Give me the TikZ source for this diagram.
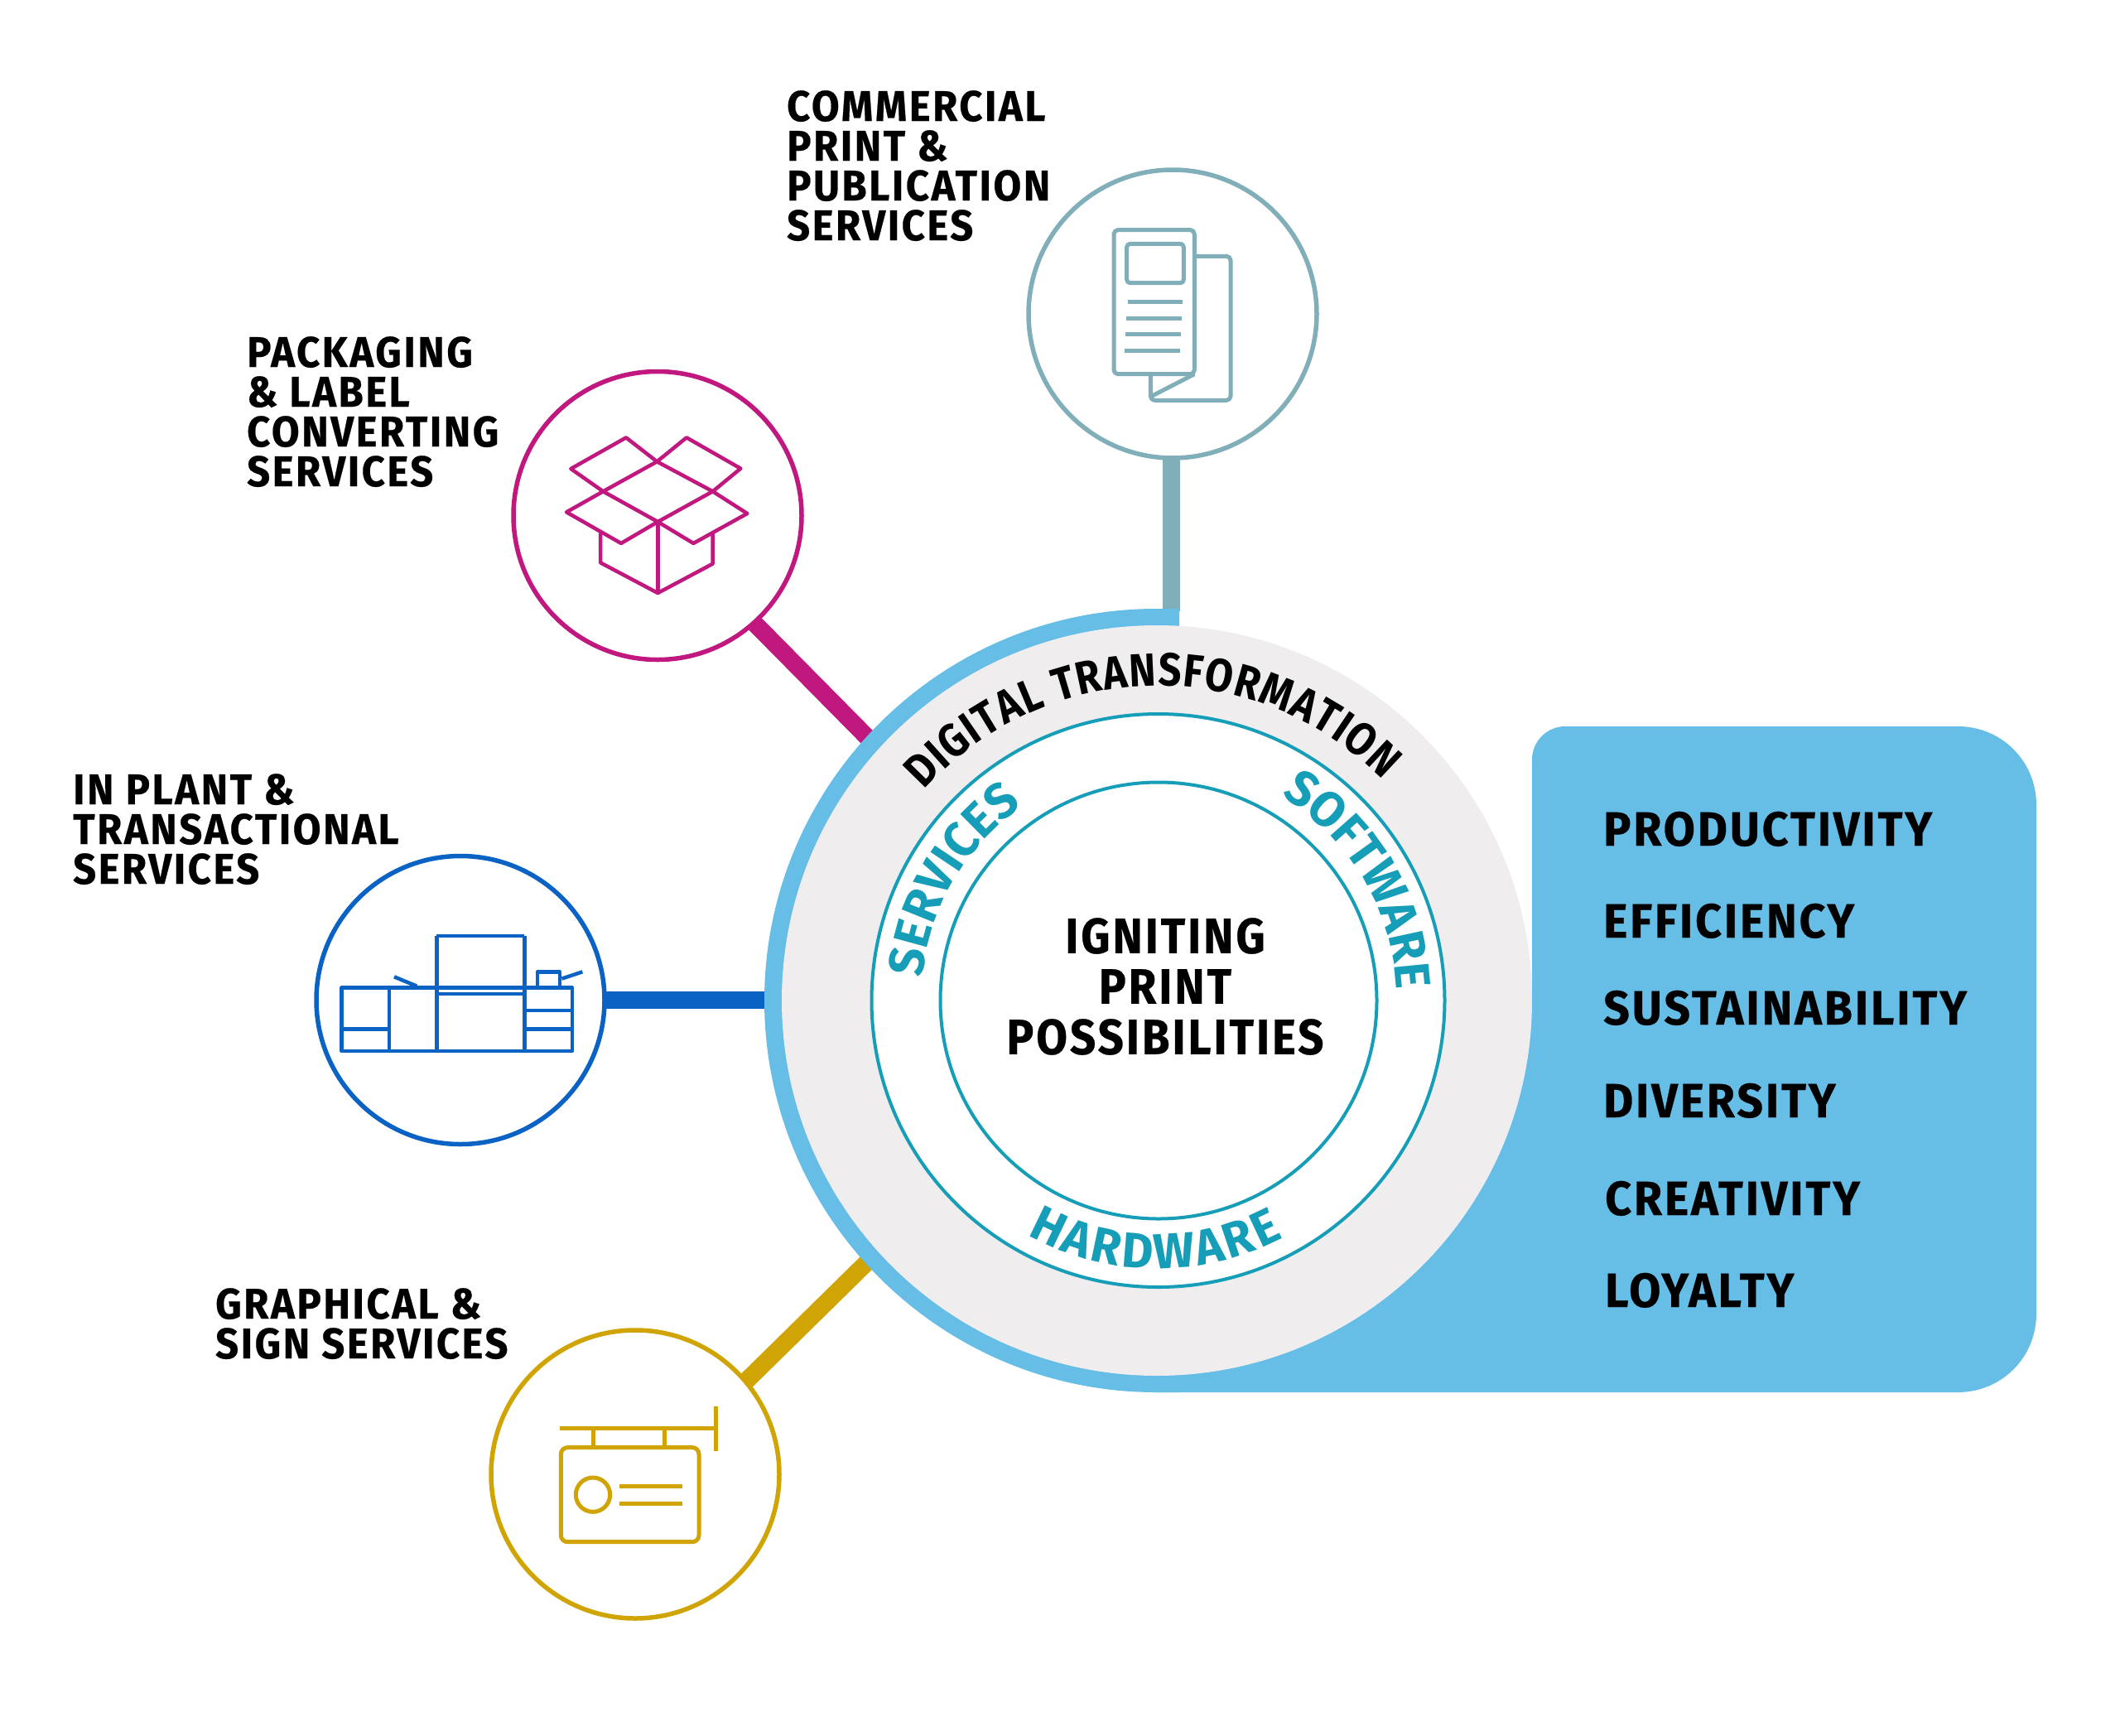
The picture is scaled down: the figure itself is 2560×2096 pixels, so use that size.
\documentclass[tikz,border=0pt]{standalone}
\usepackage{fontspec}
\usetikzlibrary{decorations.text,calc}
\setmainfont{Fira Sans}
\newfontfamily\labelfont{Fira Sans Bold}[LetterSpace=5,FakeStretch=0.94,FakeBold=0.4]
\newfontfamily\bigfont{Fira Sans Bold}[LetterSpace=5,FakeStretch=0.955,FakeBold=0.4]
\newfontfamily\midfont{Fira Sans Bold}[LetterSpace=5,FakeStretch=0.91,FakeBold=0.4]
\newfontfamily\arcfont{Fira Sans Bold}[FakeStretch=0.97]
\newfontfamily\digfont{Fira Sans Bold}[FakeStretch=0.87]
\definecolor{ccyan}{HTML}{66BDE6}
\definecolor{cgray}{HTML}{EFEDEE}
\definecolor{cteal}{HTML}{169DB7}
\definecolor{cslate}{HTML}{80AEB9}
\definecolor{cmag}{HTML}{C0187F}
\definecolor{cblue}{HTML}{0A63C4}
\definecolor{cgold}{HTML}{CFA404}
\pgfdeclarelayer{under}
\pgfsetlayers{under,main}
\tikzset{
 lab/.style={font=\labelfont\fontsize{52}{48}\selectfont,align=left,anchor=north west,inner sep=0pt,text=black},
 big/.style={font=\bigfont\fontsize{58}{60}\selectfont,anchor=base west,inner sep=0pt,text=black},
 hub/.style={circle,fill=white,minimum size=348pt,line width=5.5pt,inner sep=0pt,outer sep=0pt},
 link/.style={line width=21pt},
}
\begin{document}
\begin{tikzpicture}[x=1pt,y=-1pt]
\useasboundingbox (0,0) rectangle (2560,2096);
% panel and ring backing
\fill[ccyan] (1396,1208) -- (1850,1208) -- (1850,917)
  .. controls (1850,895) and (1868,877) .. (1890,877) -- (2364,877)
  .. controls (2417,877) and (2459,919) .. (2459,972) -- (2459,1586)
  .. controls (2459,1639) and (2417,1681) .. (2364,1681) -- (1396,1681) -- cycle;
\fill[ccyan] (1396,735) -- (1424,735) -- (1424,1681) -- (1396,1681)
  .. controls (1135,1681) and (923,1469) .. (923,1208)
  .. controls (923,947) and (1135,735) .. (1396,735) -- cycle;
% hubs
\coordinate (cT) at (1414.5,738);
\coordinate (cM) at (1050,893);
\coordinate (cB) at (930,1207.5);
\coordinate (cG) at (1048,1523);
\node[hub,draw=cslate] (nT) at (1416,379) {};
\node[hub,draw=cmag] (nM) at (794,622.5) {};
\node[hub,draw=cblue] (nB) at (556,1207.5) {};
\node[hub,draw=cgold] (nG) at (767,1780) {};
\begin{pgfonlayer}{under}
\draw[link,cslate] (nT.south -| cT) -- (cT);
\draw[link,cmag] ($(nM.-48.3)!-14pt!(cM)$) -- (cM);
\draw[link,cblue] (nB.east) -- (cB);
\draw[link,cgold] ($(nG.40)!-14pt!(cG)$) -- (cG);
\end{pgfonlayer}
% disc
\node[circle,fill=cgray,minimum size=906pt,inner sep=0pt] (disc) at (1397,1208) {};
\node[circle,draw=cteal,fill=white,line width=4pt,minimum size=692pt,inner sep=0pt] (outer) at (1398.5,1208) {};
\node[circle,draw=cteal,fill=white,line width=4pt,minimum size=527pt,inner sep=0pt] (inner) at (1399,1208) {};
% curved text
\begin{scope}[shift={(1398.5,1208)},y=1pt]
\path[decorate,decoration={text along path,text align={fit to path},
  text={|\digfont\fontsize{56}{56}\selectfont\color{black}|DIGITAL TRANSFORMATION}}]
  (138:380) arc[start angle=138,end angle=44.5,radius=380];
\path[decorate,decoration={text along path,text align={fit to path},
  text={|\arcfont\fontsize{60}{60}\selectfont\color{cteal}|SERVICES}}]
  (174.5:286) arc[start angle=174.5,end angle=128,radius=286];
\path[decorate,decoration={text along path,text align={fit to path},
  text={|\arcfont\fontsize{60}{60}\selectfont\color{cteal}|SOFTWARE}}]
  (59:288) arc[start angle=59,end angle=3.8,radius=288];
\path[decorate,decoration={text along path,text align={fit to path},
  text={|\arcfont\fontsize{60}{60}\selectfont\color{cteal}|HARDWARE}}]
  (240.8:324) arc[start angle=240.8,end angle=297.8,radius=324];
\end{scope}
% labels
\node[lab] (t1) at (950,109) {COMMERCIAL\\PRINT \&\\PUBLICATION\\SERVICES};
\node[lab] (t2) at (298,406) {PACKAGING\\\& LABEL\\CONVERTING\\SERVICES};
\node[lab] (t3) at (88,934) {IN PLANT \&\\TRANSACTIONAL\\SERVICES};
\node[lab] (t4) at (260,1555) {GRAPHICAL \&\\SIGN SERVICES};
\node[font=\midfont\fontsize{60}{61}\selectfont,align=center,inner sep=0pt,text=black] (ctr) at (1407,1191) {IGNITING\\PRINT\\POSSIBILITIES};
\node[big] (r1) at (1936,1021) {PRODUCTIVITY};
\node[big] (r2) at (1936,1132) {EFFICIENCY};
\node[big] (r3) at (1936,1237) {SUSTAINABILITY};
\node[big] (r4) at (1936,1349) {DIVERSITY};
\node[big] (r5) at (1938,1467) {CREATIVITY};
\node[big] (r6) at (1938,1578) {LOYALTY};
% document icon
\begin{scope}[shift={(1200,180)},scale=0.33333,cslate,line width=5pt,line join=round]
\draw[rounded corners=5pt] (727,388) -- (858,388) -- (858,910) -- (568,910) -- (568,815);
\draw[rounded corners=5pt] (435,293) rectangle (727,815);
\draw (568,897) -- (727,815);
\draw[rounded corners=4pt] (482,343) rectangle (688,485);
\draw (485,553) -- (685,553) (481,612) -- (682,612) (478,671) -- (679,671) (475,729) -- (676,729);
\end{scope}
% box icon
\begin{scope}[shift={(600,430)},scale=0.33333,cmag,line width=4.5pt,line join=round]
\draw (580,382) -- (782,490) -- (583,600) -- (385,490) -- cycle;
\draw (580,382) -- (468,295) -- (268,408) -- (385,490);
\draw (580,382) -- (687,295) -- (883,407) -- (782,490);
\draw (385,490) -- (252,565) -- (450,678) -- (583,600);
\draw (782,490) -- (907,570) -- (712,678) -- (583,600);
\draw (375,640) -- (375,748) -- (583,858) -- (782,752) -- (782,640);
\draw (583,600) -- (583,858);
\end{scope}
% printer icon
\begin{scope}[shift={(370,1020)},scale=0.33333,cblue,line width=4.5pt,line join=round]
\draw (128,517) rectangle (963,747);
\draw (300,517) -- (300,747) (472,330) -- (472,747) (790,330) -- (790,747);
\draw (472,330) -- (790,330);
\draw (472,540) -- (790,540);
\draw (128,667) -- (300,667) (790,600) -- (963,600) (790,667) -- (963,667);
\draw (318,478) -- (400,512);
\draw (837,517) -- (837,460) -- (918,460) -- (918,517);
\draw (925,485) -- (1000,460);
\end{scope}
% sign icon
\begin{scope}[shift={(570,1600)},scale=0.33333,cgold,line width=5pt,line join=round]
\draw[rounded corners=8pt] (322,443) rectangle (822,785);
\draw (318,374) -- (883,374) (883,295) -- (883,455);
\draw (438,374) -- (438,443) (697,374) -- (697,443);
\draw (438,614) circle[radius=62];
\draw (535,583) -- (762,583) (535,646) -- (762,646);
\end{scope}
\end{tikzpicture}
\end{document}
